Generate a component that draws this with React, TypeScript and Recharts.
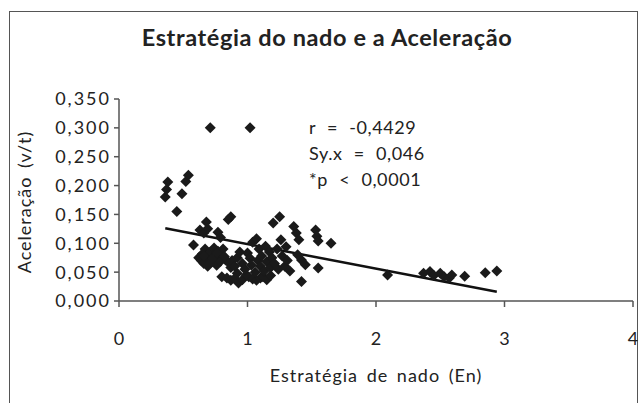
import { ScatterChart, Scatter, XAxis, YAxis, ReferenceLine } from "recharts";

// Estratégia de nado (En)
const enValues = [
  0.71, 1.02,
  0.36, 0.37, 0.38, 0.45, 0.49, 0.52, 0.54,
  0.58, 0.63, 0.66, 0.68, 0.69, 0.77, 0.79, 0.85, 0.87,
  0.62, 0.64, 0.65, 0.66, 0.67, 0.68, 0.69, 0.7, 0.71, 0.72, 0.73, 0.74, 0.75, 0.76, 0.77, 0.78, 0.8, 0.81, 0.83, 0.85, 0.87,
  0.66, 0.7, 0.73, 0.76, 0.79, 0.82, 0.88, 0.92,
  0.8, 0.84, 0.87, 0.9, 0.93, 0.96, 0.99, 1.01, 1.04, 1.07, 1.1, 1.12, 1.15, 1.18,
  0.9, 0.92, 0.94, 0.96, 0.98, 1.0, 1.02, 1.03, 1.04, 1.06, 1.07, 1.08, 1.09, 1.1, 1.11, 1.13, 1.14, 1.15, 1.17, 1.18,
  1.19, 1.21, 1.2, 1.23, 1.24, 1.25, 1.26, 1.27, 1.29, 1.3, 1.31, 1.33,
  1.36, 1.38, 1.4, 1.39, 1.42, 1.42, 1.45, 1.53, 1.54, 1.55, 1.55, 1.65,
  2.09, 2.37, 2.42, 2.45, 2.5, 2.53, 2.57, 2.59, 2.69, 2.85, 2.94,
];

// Aceleração (v/t)
const accValues = [
  0.3, 0.3,
  0.18, 0.193, 0.206, 0.155, 0.186, 0.207, 0.218,
  0.097, 0.123, 0.118, 0.137, 0.125, 0.119, 0.11, 0.141, 0.146,
  0.075, 0.07, 0.082, 0.065, 0.09, 0.078, 0.06, 0.072, 0.085, 0.068, 0.08, 0.092, 0.074, 0.062, 0.086, 0.078, 0.08, 0.09, 0.071, 0.067, 0.058,
  0.078, 0.064, 0.074, 0.083, 0.069, 0.077, 0.07, 0.048,
  0.042, 0.04, 0.036, 0.039, 0.031, 0.037, 0.045, 0.042, 0.038, 0.036, 0.04, 0.042, 0.037, 0.044,
  0.06, 0.075, 0.085, 0.065, 0.055, 0.083, 0.074, 0.062, 0.102, 0.05, 0.108, 0.07, 0.09, 0.06, 0.078, 0.052, 0.095, 0.068, 0.085, 0.058,
  0.075, 0.065, 0.135, 0.09, 0.055, 0.146, 0.106, 0.078, 0.06, 0.094, 0.07, 0.052,
  0.129, 0.118, 0.106, 0.08, 0.071, 0.034, 0.063, 0.123, 0.112, 0.104, 0.057, 0.1,
  0.045, 0.048, 0.051, 0.044, 0.048, 0.042, 0.04, 0.045, 0.043, 0.049, 0.052,
];

const xTicks = [0, 1, 2, 3, 4];
const yTicks = [0, 0.05, 0.1, 0.15, 0.2, 0.25, 0.3, 0.35];

const slope = -0.0426;
const intercept = 0.1413;
const fitRange = [0.36, 2.94];

const stats = ["r = -0,4429", "Sy.x = 0,046", "*p < 0,0001"];

const points = enValues.map((x, i) => ({ x, y: accValues[i] }));

const FONT = "Lato, 'Open Sans', sans-serif";
const INK = "#222";
const textStyle = { fontSize: 18, fill: INK, fontFamily: FONT, letterSpacing: 1, wordSpacing: 3 };

const Diamond = (props: any) => {
  const { cx, cy } = props;
  if (cx == null || cy == null) return null;
  const r = 5.5;
  return (
    <polygon
      points={`${cx},${cy - r} ${cx + r},${cy} ${cx},${cy + r} ${cx - r},${cy}`}
      fill="#1a1a1a"
    />
  );
};

export default function App() {
  return (
    <div
      style={{
        position: "absolute",
        left: 0,
        top: 0,
        width: 639,
        height: 403,
        background: "#fff",
        fontFamily: FONT,
        color: INK,
        overflow: "hidden",
      }}
    >
      <div
        style={{
          position: "absolute",
          left: 9,
          top: 11,
          width: 629,
          height: 420,
          border: "1.5px solid #555",
          boxSizing: "border-box",
        }}
      />
      <div
        style={{
          position: "absolute",
          left: 0,
          width: 654,
          top: 23,
          textAlign: "center",
          fontSize: 23.5,
          fontWeight: 700,
          letterSpacing: 0.6,
        }}
      >
        Estratégia do nado e a Aceleração
      </div>
      <div
        style={{
          position: "absolute",
          left: 309,
          top: 114,
          fontSize: 18,
          lineHeight: "26px",
          letterSpacing: 0.6,
          wordSpacing: 6,
          whiteSpace: "pre",
        }}
      >
        {stats.map((s) => (
          <div key={s}>{s}</div>
        ))}
      </div>
      <ScatterChart
        width={639}
        height={403}
        margin={{ top: 99, right: 6, bottom: 65, left: 49 }}
        style={{ position: "absolute", left: 0, top: 0 }}
      >
        <XAxis
          type="number"
          dataKey="x"
          domain={[0, 4]}
          ticks={xTicks}
          height={37}
          axisLine={{ stroke: "#555", strokeWidth: 1.5 }}
          tickLine={{ stroke: "#555", strokeWidth: 1.5 }}
          tickSize={6}
          tickMargin={25}
          tick={{ ...textStyle, letterSpacing: 0 }}
          label={{
            value: "Estratégia de nado (En)",
            position: "insideBottom",
            offset: -44,
            style: { ...textStyle, textAnchor: "middle" },
          }}
        />
        <YAxis
          type="number"
          dataKey="y"
          domain={[0, 0.35]}
          ticks={yTicks}
          width={70}
          axisLine={{ stroke: "#555", strokeWidth: 1.5 }}
          tickLine={{ stroke: "#555", strokeWidth: 1.5 }}
          tickSize={5}
          tickMargin={3}
          tickFormatter={(v: number) => v.toFixed(3).replace(".", ",")}
          tick={{ ...textStyle, letterSpacing: 2 }}
          label={{
            value: "Aceleração (v/t)",
            angle: -90,
            position: "insideLeft",
            offset: -24,
            dy: 2,
            style: { ...textStyle, textAnchor: "middle" },
          }}
        />
        <Scatter data={points} shape={Diamond} isAnimationActive={false} />
        <ReferenceLine
          segment={[
            { x: fitRange[0], y: intercept + slope * fitRange[0] },
            { x: fitRange[1], y: intercept + slope * fitRange[1] },
          ]}
          stroke="#111"
          strokeWidth={2.5}
          ifOverflow="visible"
        />
      </ScatterChart>
    </div>
  );
}
